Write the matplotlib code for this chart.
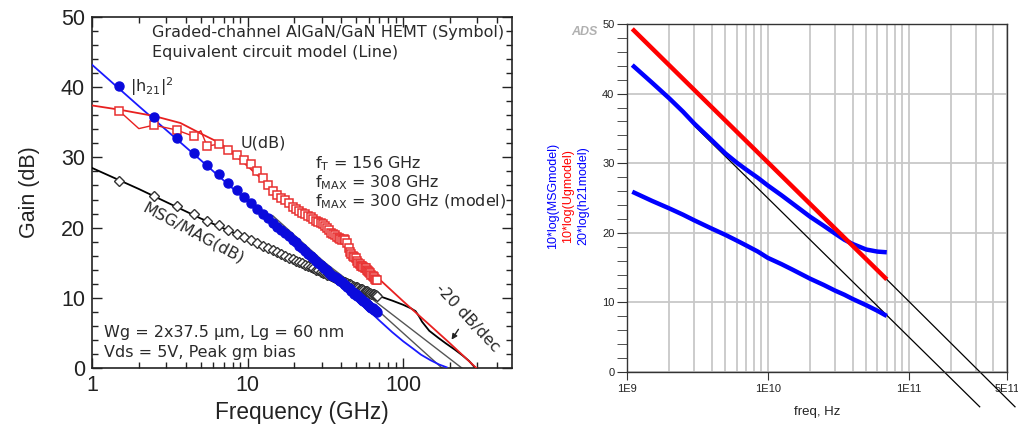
import matplotlib
matplotlib.use("Agg")
import matplotlib.pyplot as plt
from matplotlib.ticker import FixedLocator, NullFormatter, FixedFormatter

W, H = 1018, 426
# ---------------- Left panel data (measured, GHz / dB) ----------------
meas_f = [1.5, 2.5, 3.5, 4.5, 5.5, 6.5, 7.5, 8.5, 9.5, 10.5, 11.5, 12.5, 13.5, 14.5, 15.5,
          16.5, 17.5, 18.5, 19.5, 20.5, 21.5, 22.5, 23.5, 24.5, 25.5, 26.5, 27.5, 28.5, 29.5,
          30.5, 31.5, 32.5, 33.5, 34.5, 35.5, 36.5, 37.5, 38.5, 39.5, 40.5, 41.5, 42.5, 43.5,
          44.5, 45.5, 46.5, 47.5, 48.5, 49.5, 50.5, 51.5, 52.5, 53.5, 54.5, 55.5, 56.5, 57.5,
          58.5, 59.5, 60.5, 61.5, 62.5, 63.5, 64.5, 65.5, 66.5, 67.5]
h21_meas = [40.2, 35.8, 32.8, 30.6, 28.9, 27.6, 26.4, 25.3, 24.4, 23.5, 22.7, 22.0, 21.3, 20.7,
            20.1, 19.7, 19.2, 18.8, 18.3, 17.9, 17.4, 17.1, 16.7, 16.3, 16.0, 15.6, 15.3, 15.0,
            14.7, 14.4, 14.1, 13.9, 13.6, 13.3, 13.1, 13.0, 12.8, 12.6, 12.4, 12.2, 12.0, 11.8,
            11.6, 11.4, 11.2, 11.0, 10.8, 10.6, 10.5, 10.3, 10.2, 10.0, 9.9, 9.7, 9.6, 9.4, 9.3,
            9.1, 9.0, 8.9, 8.7, 8.6, 8.5, 8.3, 8.2, 8.1, 8.0]
msg_meas = [26.6, 24.5, 23.1, 22.0, 21.0, 20.3, 19.6, 19.1, 18.6, 18.2, 17.8, 17.4, 17.1, 16.8,
            16.5, 16.2, 16.0, 15.7, 15.5, 15.3, 15.1, 14.9, 14.7, 14.5, 14.4, 14.2, 14.0, 13.9,
            13.7, 13.6, 13.5, 13.3, 13.2, 13.1, 13.0, 12.8, 12.7, 12.6, 12.5, 12.4, 12.3, 12.2,
            12.1, 12.0, 11.9, 11.8, 11.7, 11.6, 11.6, 11.5, 11.4, 11.3, 11.2, 11.2, 11.1, 11.0,
            10.9, 10.9, 10.8, 10.7, 10.7, 10.6, 10.5, 10.5, 10.4, 10.4, 10.3]
u_meas = [36.6, 34.6, 33.9, 33.0, 31.6, 31.9, 31.1, 30.4, 29.7, 29.1, 28.0, 27.0, 26.0, 25.2,
          24.7, 24.2, 23.9, 23.5, 23.0, 22.7, 22.4, 22.1, 21.9, 21.6, 21.5, 21.2, 21.0, 20.8,
          20.7, 20.5, 20.2, 19.9, 19.6, 19.3, 19.1, 18.9, 18.7, 18.5, 18.4, 18.3, 18.4, 18.3,
          17.8, 17.1, 16.5, 16.2, 16.0, 15.8, 15.6, 15.3, 15.0, 14.8, 14.6, 14.5, 14.4, 14.3,
          14.2, 14.0, 13.8, 13.7, 13.5, 13.3, 13.1, 12.9, 12.7, 12.6, 12.5]
u_extra_f = [2.0, 5.0]          # unmarked vertices of the measured U trace
u_extra_db = [34.1, 33.8]

# model lines (left)
h21_mod_f = [1, 2, 5, 10, 20, 50, 70, 85, 100, 115, 130, 150, 170, 190]
h21_mod_db = [43.2, 37.3, 29.6, 23.7, 17.7, 9.9, 6.8, 5.1, 3.8, 2.8, 1.9, 1.1, 0.5, 0.1]
u_mod_f = [1, 1.5, 2.5, 3.7, 5, 6.7, 9.5, 14, 20, 30, 45, 66, 100, 150, 200, 295]
u_mod_db = [37.4, 36.8, 35.9, 34.9, 33.4, 32.0, 29.2, 25.8, 23.0, 20.2, 17.2, 13.2, 9.5, 6.0, 3.5, 0.0]
msg_mod_f = [1, 2, 5, 10, 20, 40, 67, 85, 100, 112, 120, 126, 132, 147, 168, 188, 215, 240, 265, 288]
msg_mod_db = [28.5, 25.5, 21.3, 18.4, 15.4, 12.4, 10.4, 9.6, 9.0, 8.5, 8.1, 7.4, 6.6, 5.3, 4.3, 3.5, 2.6, 1.8, 1.0, 0.1]
refA_f = [14.5, 190]
refA_db = [21.7, -0.6]
refB_f = [24.0, 265]
refB_db = [17.0, -0.8]

left_xticks = [1, 10, 100]
left_xticklabels = ["1", "10", "100"]
left_yticks = [0, 10, 20, 30, 40, 50]

# ---------------- Right panel data (ADS, Hz / dB) ----------------
ads_f = [1.09e9, 1.5e9, 2e9, 2.5e9, 3e9, 4e9, 5e9, 6e9, 7e9, 8.5e9, 1e10, 1.25e10, 1.5e10,
         2e10, 2.5e10, 3e10, 3.5e10, 4e10, 5e10, 6e10, 7e10]
ads_h21 = [44.1, 41.6, 39.3, 37.4, 35.7, 33.3, 31.4, 30.1, 29.1, 27.9, 26.8, 25.4, 24.2,
           22.3, 21.0, 19.9, 19.0, 18.4, 17.6, 17.3, 17.2]
ads_msg = [25.9, 24.6, 23.5, 22.6, 21.8, 20.6, 19.7, 18.9, 18.2, 17.3, 16.4, 15.5, 14.7,
           13.4, 12.5, 11.7, 11.1, 10.5, 9.6, 8.8, 8.05]
ads_u_f = [1.09e9, 7e10]
ads_u = [49.3, 13.3]
ads_ref1_f = [3e9, 3.2e11]
ads_ref1_db = [35.4, -5.0]
ads_ref2_f = [7e10, 5.7e11]
ads_ref2_db = [13.3, -5.0]
ads_xticks = [1e9, 1e10, 1e11, 5e11]
ads_xticklabels = ["1E9", "1E10", "1E11", "5E11"]
ads_yticks = [0, 10, 20, 30, 40, 50]

fig = plt.figure(figsize=(W / 100, H / 100), dpi=100)

# ======================= LEFT PANEL =======================
axL = fig.add_axes([92 / W, 1 - 368 / H, 420 / W, 351 / H])
axL.set_xscale("log")
axL.set_xlim(1, 500)
axL.set_ylim(0, 50)

lw_mod = 1.3
axL.plot(h21_mod_f, h21_mod_db, color="#1a1aff", lw=lw_mod, zorder=3)
axL.plot(msg_mod_f, msg_mod_db, color="black", lw=lw_mod, zorder=3)
axL.plot(u_mod_f, u_mod_db, color="#e82020", lw=lw_mod, zorder=3)
axL.plot(refA_f, refA_db, color="#555555", lw=1.0, zorder=2)
axL.plot(refB_f, refB_db, color="#555555", lw=1.0, zorder=2)

# measured U trace (connected, includes unmarked vertices)
pairs = sorted(list(zip(meas_f, u_meas)) + list(zip(u_extra_f, u_extra_db)))
axL.plot([p[0] for p in pairs], [p[1] for p in pairs], color="#e82020", lw=1.0, zorder=3)
axL.plot(meas_f, u_meas, ls="none", marker="s", ms=5.5, mfc="white", mec="#e83030",
         mew=1.1, zorder=4)
axL.plot(meas_f, msg_meas, ls="none", marker="D", ms=5.0, mfc="white", mec="#333333",
         mew=1.0, zorder=4)
axL.plot(meas_f, h21_meas, ls="none", marker="o", ms=6.5, mfc="#0a0adc", mec="#0a0adc",
         zorder=5)

axL.xaxis.set_major_locator(FixedLocator(left_xticks))
axL.set_xticklabels(left_xticklabels)
axL.xaxis.set_minor_locator(FixedLocator([2, 3, 4, 5, 6, 7, 8, 9, 20, 30, 40, 50, 60, 70, 80, 90,
                                          200, 300, 400]))
axL.xaxis.set_minor_formatter(NullFormatter())
axL.yaxis.set_major_locator(FixedLocator(left_yticks))
axL.yaxis.set_minor_locator(FixedLocator(list(range(0, 51, 2))))
axL.tick_params(which="both", direction="in", top=True, right=True, color="#222222")
axL.tick_params(which="major", length=7, width=1.0, labelsize=15.5, pad=5)
axL.tick_params(which="minor", length=4, width=1.0)
for lab in axL.get_xticklabels() + axL.get_yticklabels():
    lab.set_family("Liberation Sans")
    lab.set_color("#222222")
for s in axL.spines.values():
    s.set_linewidth(1.2)
    s.set_color("#222222")
axL.set_xlabel("Frequency (GHz)", fontsize=16.3, family="Liberation Sans", color="#222222", labelpad=4)
axL.set_ylabel("Gain (dB)", fontsize=15.5, family="Liberation Sans", color="#222222", labelpad=15)

tc = "#2a2a2a"
def ftext(px, py, s, **kw):
    fig.text(px / W, 1 - py / H, s, color=kw.pop("color", tc), family="DejaVu Sans", **kw)

fs = 11.5
ftext(504, 33, "Graded-channel AlGaN/GaN HEMT (Symbol)", fontsize=fs, ha="right", va="center")
ftext(152, 53, "Equivalent circuit model (Line)", fontsize=fs, ha="left", va="center")
ftext(130, 87, r"|h$_{21}$|$^2$", fontsize=fs, ha="left", va="center")
ftext(241, 143, "U(dB)", fontsize=fs, ha="left", va="center")
ftext(315, 164, r"f$_{\mathregular{T}}$ = 156 GHz", fontsize=fs, ha="left", va="center")
ftext(315, 183, r"f$_{\mathregular{MAX}}$ = 308 GHz", fontsize=fs, ha="left", va="center")
ftext(315, 202, r"f$_{\mathregular{MAX}}$ = 300 GHz (model)", fontsize=fs, ha="left", va="center")
ftext(193, 233, "MSG/MAG(dB)", fontsize=fs, ha="center", va="center", rotation=-28)
ftext(468, 318, "-20 dB/dec", fontsize=fs, ha="center", va="center", rotation=-47)
ftext(104, 333, "Wg = 2x37.5 µm, Lg = 60 nm", fontsize=fs, ha="left", va="center")
ftext(104, 352, "Vds = 5V, Peak gm bias", fontsize=fs, ha="left", va="center")
axL.annotate("", xy=(450 / W, 1 - 342 / H), xytext=(460 / W, 1 - 327 / H),
             xycoords="figure fraction", textcoords="figure fraction",
             arrowprops=dict(arrowstyle="-|>", color="#222222", lw=1.0, mutation_scale=8))

# ======================= RIGHT PANEL =======================
axR = fig.add_axes([627 / W, 1 - 372 / H, 380 / W, 348 / H])
axR.set_xscale("log")
axR.set_xlim(1e9, 5e11)
axR.set_ylim(0, 50)
axR.xaxis.set_major_locator(FixedLocator(ads_xticks))
axR.xaxis.set_major_formatter(FixedFormatter(ads_xticklabels))
minors_x = [m * 10 ** e for e in (9, 10) for m in range(2, 10)] + [2e11, 3e11, 4e11]
axR.xaxis.set_minor_locator(FixedLocator(minors_x))
axR.xaxis.set_minor_formatter(NullFormatter())
axR.yaxis.set_major_locator(FixedLocator(ads_yticks))
axR.yaxis.set_minor_locator(FixedLocator(list(range(0, 51, 2))))
axR.grid(True, which="major", axis="both", color="#c8c8c8", lw=1.3)
axR.grid(True, which="minor", axis="x", color="#c8c8c8", lw=1.3)
axR.set_axisbelow(True)
axR.tick_params(which="both", direction="out", color="#333333")
axR.tick_params(axis="x", which="major", length=6, labelsize=8, pad=3)
axR.tick_params(axis="x", which="minor", length=0)
axR.tick_params(axis="y", which="major", length=7, labelsize=8, pad=2)
axR.tick_params(axis="y", which="minor", length=7)
for lab in axR.get_xticklabels() + axR.get_yticklabels():
    lab.set_family("Liberation Sans")
    lab.set_color("#222222")
for s in axR.spines.values():
    s.set_linewidth(1.0)
    s.set_color("#333333")

axR.plot(ads_ref1_f, ads_ref1_db, color="black", lw=0.9, clip_on=False, zorder=2)
axR.plot(ads_ref2_f, ads_ref2_db, color="black", lw=0.9, clip_on=False, zorder=2)
axR.plot(ads_f, ads_msg, color="#0000ff", lw=3.2, solid_capstyle="butt", solid_joinstyle="round", zorder=3)
axR.plot(ads_f, ads_h21, color="#0000ff", lw=3.2, solid_capstyle="butt", solid_joinstyle="round", zorder=3)
axR.plot(ads_u_f, ads_u, color="#ff0000", lw=3.2, solid_capstyle="butt", zorder=4)

axR.set_xlabel("freq, Hz", fontsize=9.5, family="Liberation Sans", color="#222222", labelpad=8)
fig.text(553 / W, 1 - 196 / H, "10*log(MSGmodel)", color="#0000ff", fontsize=9,
         family="Liberation Sans", rotation=90, ha="center", va="center")
fig.text(568 / W, 1 - 196 / H, "10*log(Ugmodel)", color="#ff0000", fontsize=9,
         family="Liberation Sans", rotation=90, ha="center", va="center")
fig.text(583 / W, 1 - 196 / H, "20*log(h21model)", color="#0000ff", fontsize=9,
         family="Liberation Sans", rotation=90, ha="center", va="center")
fig.text(584 / W, 1 - 32 / H, "ADS", color="#b0b0b0", fontsize=9, weight="bold", style="italic",
         family="Liberation Sans", ha="center", va="center")

fig.savefig("out.png", dpi=100)
